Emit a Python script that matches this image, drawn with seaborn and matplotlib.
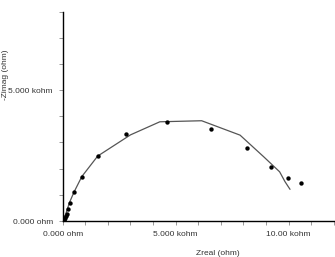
import matplotlib
matplotlib.use("Agg")
import matplotlib.pyplot as plt
import seaborn as sns
import pandas as pd
from matplotlib.ticker import FixedLocator, FuncFormatter

# Measured data (ohm)
z_real_meas = [20, 40, 60, 100, 140, 180, 225, 310, 500, 870, 1560, 2820, 4610, 6550, 8140, 9200, 9950, 10540]
z_imag_meas = [5, 10, 40, 100, 180, 270, 450, 700, 1110, 1690, 2490, 3310, 3790, 3510, 2800, 2070, 1630, 1460]

# Fit curve (ohm)
z_real_fit = [0, 60, 150, 300, 500, 850, 1550, 3000, 4300, 6150, 7850, 8900, 9600, 9840, 10060]
z_imag_fit = [0, 100, 300, 700, 1100, 1700, 2480, 3290, 3790, 3830, 3280, 2450, 1880, 1500, 1210]

labeled_ticks = {0: "0.000 ohm", 5000: "5.000 kohm", 10000: "10.00 kohm"}
y_labeled_ticks = {0: "0.000 ohm", 5000: "5.000 kohm"}

sns.set_style("ticks")
plt.rcParams['font.family'] = ['Liberation Sans', 'DejaVu Sans']

fig = plt.figure(figsize=(3.35, 2.57), dpi=100)
ax = fig.add_axes([0.187, 0.14, 0.813, 0.815])

meas = pd.DataFrame({"x": z_real_meas, "y": z_imag_meas})
fit = pd.DataFrame({"x": z_real_fit, "y": z_imag_fit})

sns.lineplot(data=fit, x="x", y="y", sort=False, color="#555555", linewidth=0.9, ax=ax)
sns.scatterplot(data=meas, x="x", y="y", color="black", s=10, edgecolor="black", linewidth=0, ax=ax, zorder=3)

ax.set_xlim(0, 12050)
ax.set_ylim(0, 8000)

ax.xaxis.set_major_locator(FixedLocator(list(range(0, 12001, 1000))))
ax.yaxis.set_major_locator(FixedLocator(list(range(0, 8001, 1000))))
ax.xaxis.set_major_formatter(FuncFormatter(lambda v, p: labeled_ticks.get(int(round(v)), "")))
ax.yaxis.set_major_formatter(FuncFormatter(lambda v, p: y_labeled_ticks.get(int(round(v)), "")))

ax.tick_params(axis="both", length=3, width=0.6, color="#888888", labelsize=6, labelcolor="#333333", pad=4)

for s in ["top", "right"]:
    ax.spines[s].set_visible(False)
for s in ["left", "bottom"]:
    ax.spines[s].set_color("black")
    ax.spines[s].set_linewidth(1.0)

ax.set_xlabel("Zreal (ohm)", fontsize=6, color="#333333")
ax.set_ylabel("-Zimag (ohm)", fontsize=6, color="#333333")
ax.xaxis.set_label_coords((218 - 62.7) / 272.3, -(250 - 221) / 209.5)
ax.yaxis.set_label_coords(-(62.7 - 9) / 272.3, (221 - 75) / 209.5)

fig.savefig("out.png", dpi=100)
